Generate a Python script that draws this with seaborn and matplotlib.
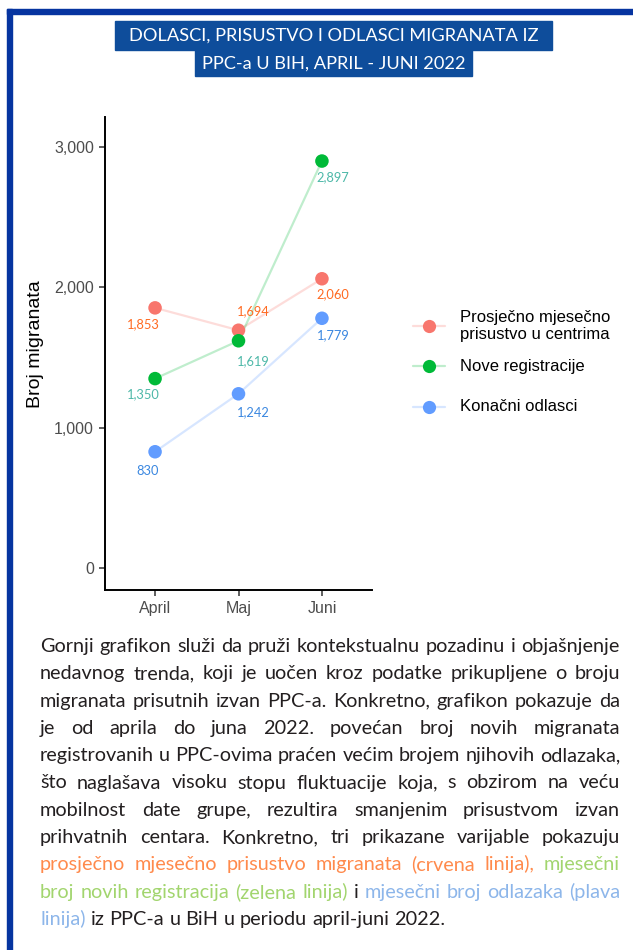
import numpy as np
import pandas as pd
import seaborn as sns
import matplotlib.pyplot as plt
from matplotlib.patches import Rectangle
from matplotlib.lines import Line2D
from matplotlib.ticker import StrMethodFormatter

# podaci
mjeseci = ['April', 'Maj', 'Juni']
prisustvo = [1853, 1694, 2060]
registracije = [1350, 1619, 2897]
odlasci = [830, 1242, 1779]
serije = ['Prosječno mjesečno\nprisustvo u centrima', 'Nove registracije', 'Konačni odlasci']
naslov = ['DOLASCI, PRISUSTVO I ODLASCI MIGRANATA IZ', 'PPC-a U BIH, APRIL - JUNI 2022']

boje = ['#F8766D', '#00BA38', '#619CFF']        # tacke
boje_oznaka = ['#FF6A21', '#4DB8A8', '#3A87E0']  # brojevi uz tacke
c_crv, c_zel, c_pla, c_crn = '#FF8A4C', '#A2D56E', '#8DB6EA', '#231F20'

tekst = [
    [('Gornji grafikon služi da pruži kontekstualnu pozadinu i objašnjenje', c_crn)],
    [('nedavnog trenda, koji je uočen kroz podatke prikupljene o broju', c_crn)],
    [('migranata prisutnih izvan PPC-a. Konkretno, grafikon pokazuje da', c_crn)],
    [('je od aprila do juna 2022. povećan broj novih migranata', c_crn)],
    [('registrovanih u PPC-ovima praćen većim brojem njihovih odlazaka,', c_crn)],
    [('što naglašava visoku stopu fluktuacije koja, s obzirom na veću', c_crn)],
    [('mobilnost date grupe, rezultira smanjenim prisustvom izvan', c_crn)],
    [('prihvatnih centara. Konkretno, tri prikazane varijable pokazuju', c_crn)],
    [('prosječno mjesečno prisustvo migranata (crvena linija),', c_crv), ('mjesečni', c_zel)],
    [('broj novih registracija (zelena linija)', c_zel), ('i', c_crn), ('mjesečni broj odlazaka (plava', c_pla)],
    [('linija)', c_pla), ('iz PPC-a u BiH u periodu april-juni 2022.', c_crn)],
]

df = pd.DataFrame({
    'mjesec': mjeseci * 3,
    'broj': prisustvo + registracije + odlasci,
    'serija': np.repeat(serije, 3),
})

sns.set_theme(style='white')
plt.rcParams['font.family'] = ['Liberation Sans', 'DejaVu Sans']

W, H = 633, 950
fig = plt.figure(figsize=(W / 100, H / 100), dpi=100)
fx = lambda px: px / W
fy = lambda py: 1 - py / H

# okvir
fig.patches.append(Rectangle((fx(7), 0), fx(5), fy(9), transform=fig.transFigure, color='#0634A0', zorder=0))
fig.patches.append(Rectangle((fx(7), fy(14)), 1, fy(9) - fy(14), transform=fig.transFigure, color='#0634A0', zorder=0))

ax = fig.add_axes([fx(105), fy(590), fx(372) - fx(105), fy(116.6) - fy(590)])
pal = dict(zip(serije, boje))
sns.lineplot(data=df, x='mjesec', y='broj', hue='serija', palette=pal, alpha=0.25,
             linewidth=1.6, legend=False, sort=False, ax=ax)
sns.scatterplot(data=df, x='mjesec', y='broj', hue='serija', palette=pal, s=95,
                linewidth=0, legend=False, zorder=3, ax=ax)

pomaci = [[(-12, 16), (15, -19), (11, 15)],
          [(-12, 16), (15, 20), (11, 16)],
          [(-7, 19), (15, 18), (11, 17)]]
for k, vals in enumerate([prisustvo, registracije, odlasci]):
    for i, v in enumerate(vals):
        dx, dy = pomaci[k][i]
        ax.annotate(f'{v:,}', (i, v), xytext=(dx * 0.72, -dy * 0.72), textcoords='offset points',
                    ha='center', va='center', color=boje_oznaka[k], fontsize=9.3, family='Lato')

ax.set_xlim(-0.6, 2.6)
ax.set_ylim(-153, 3213)
ax.set_yticks([0, 1000, 2000, 3000])
ax.yaxis.set_major_formatter(StrMethodFormatter('{x:,.0f}'))
ax.set_xlabel('')
ax.set_ylabel('')
sns.despine(ax=ax)
for s in ['left', 'bottom']:
    ax.spines[s].set_color('black')
    ax.spines[s].set_linewidth(1.4)
ax.tick_params(axis='both', length=4, width=1.1, color='#333333', labelcolor='#4D4D4D',
               labelsize=11.5, left=True, bottom=True)
ax.tick_params(axis='y', pad=4)
ax.tick_params(axis='x', pad=4)
fig.text(fx(35), fy(344), 'Broj migranata', rotation=90, ha='center', va='center', fontsize=14, color='black')

# legenda
for k, (lab, c) in enumerate(zip(serije, boje)):
    yy = fy([326, 366, 406.5][k])
    fig.lines.append(Line2D([fx(413), fx(445)], [yy, yy], transform=fig.transFigure, color=c, alpha=0.25, lw=1.6))
    fig.lines.append(Line2D([fx(429)], [yy], transform=fig.transFigure, color=c, marker='o', ms=9.5, ls='', mew=0))
    fig.text(fx(460), yy, lab, ha='left', va='center', fontsize=12, linespacing=1.15, color='black')

fig.canvas.draw()
rend = fig.canvas.get_renderer()


def sirina(s, **kw):
    t = fig.text(0, 0, s, **kw)
    w = t.get_window_extent(rend).width
    t.remove()
    return w


# naslov
fs_n = 12 * 408 / sirina(naslov[0], fontsize=12, family='Lato')
for (x0, x1, y0, y1), red in zip([(115, 552, 21, 50), (195, 472, 50, 76)], naslov):
    fig.patches.append(Rectangle((fx(x0), fy(y1)), fx(x1 - x0), fy(y0) - fy(y1), transform=fig.transFigure,
                                 color='#0E4D9B', zorder=1))
    fig.text(fx(333.5), fy((y0 + y1) / 2 + 0.5), red, ha='center', va='center', color='white',
             fontsize=fs_n, family='Lato', zorder=2)

# tekst, poravnat obostrano
fs_t = 12 * 402 / sirina(' '.join(s for s, c in tekst[-1]), fontsize=12, family='Lato')
kw = dict(fontsize=fs_t, family='Lato')
razmak = sirina('a a', **kw) - sirina('aa', **kw)
for n, red in enumerate(tekst):
    rijeci = [(w, c) for s, c in red for w in s.split()]
    sir = [sirina(w, **kw) for w, c in rijeci]
    if n < len(tekst) - 1:
        gap = (580 - sum(sir)) / (len(rijeci) - 1)
    else:
        gap = razmak
    x = 40
    for (w, c), s in zip(rijeci, sir):
        fig.text(fx(x), fy(652 + 27.3 * n), w, ha='left', va='baseline', color=c, **kw)
        x += s + gap

fig.savefig('out.png', dpi=100)
